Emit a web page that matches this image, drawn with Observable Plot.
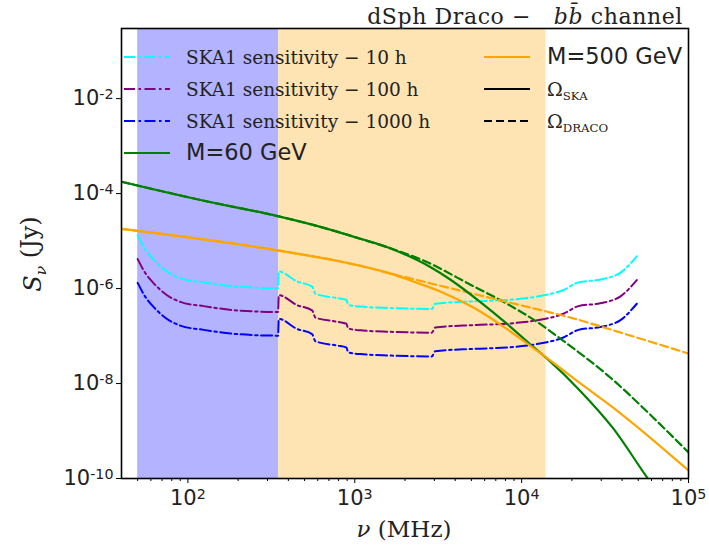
<!DOCTYPE html>
<html>
<head>
<meta charset="utf-8">
<script src="https://cdn.jsdelivr.net/npm/d3@7"></script>
<script src="https://cdn.jsdelivr.net/npm/@observablehq/plot@0.6"></script>
<style>
  html, body { margin: 0; padding: 0; background: #fff; }
  #chart { width: 709px; height: 546px; }
</style>
</head>
<body>
<div id="chart"></div>
<script>
// ---- axes / ticks ----
const xDomain = [40, 1e5];
const yDomain = [1e-10, 0.3];
const xMajorTicks = [1e2, 1e3, 1e4, 1e5];
const xMinorTicks = [50, 60, 70, 80, 90, 200, 300, 400, 500, 600, 700, 800, 900,
  2000, 3000, 4000, 5000, 6000, 7000, 8000, 9000,
  20000, 30000, 40000, 50000, 60000, 70000, 80000, 90000];
const yMajorTicks = [1e-10, 1e-8, 1e-6, 1e-4, 1e-2];

// ---- shaded frequency bands (MHz) ----
const bandLowStart = 50, bandLowEnd = 350;
const bandMidStart = 350, bandMidEnd = 14000;

// ---- SKA1 sensitivity curves (MHz, Jy) ----
const freqSens = [50, 55.7, 62.4, 75, 90, 124, 197, 347, 350.5, 451, 555, 581, 782, 891, 912,
  1079, 1622, 2897, 3034, 5140, 8147, 12300, 14160, 17800, 21900, 29500, 38900, 49000];
const sens10h = [1.32e-5, 6.61e-6, 4.07e-6, 2.29e-6, 1.66e-6, 1.35e-6, 1.10e-6, 1.02e-6, 2.29e-6,
  1.41e-6, 1.10e-6, 7.76e-7, 6.31e-7, 5.75e-7, 4.57e-7, 4.17e-7, 3.89e-7, 3.72e-7, 4.79e-7,
  5.37e-7, 5.75e-7, 6.76e-7, 7.41e-7, 9.33e-7, 1.35e-6, 1.55e-6, 2.14e-6, 4.79e-6];
const sens100h = [4.17e-6, 2.09e-6, 1.29e-6, 7.24e-7, 5.25e-7, 4.27e-7, 3.47e-7, 3.22e-7, 7.24e-7,
  4.47e-7, 3.47e-7, 2.45e-7, 2.00e-7, 1.82e-7, 1.45e-7, 1.32e-7, 1.23e-7, 1.18e-7, 1.51e-7,
  1.70e-7, 1.82e-7, 2.14e-7, 2.34e-7, 2.95e-7, 4.27e-7, 4.90e-7, 6.76e-7, 1.51e-6];
const sens1000h = [1.32e-6, 6.61e-7, 4.07e-7, 2.29e-7, 1.66e-7, 1.35e-7, 1.10e-7, 1.02e-7, 2.29e-7,
  1.41e-7, 1.10e-7, 7.76e-8, 6.31e-8, 5.75e-8, 4.57e-8, 4.17e-8, 3.89e-8, 3.72e-8, 4.79e-8,
  5.37e-8, 5.75e-8, 6.76e-8, 7.41e-8, 9.33e-8, 1.35e-7, 1.55e-7, 2.14e-7, 4.79e-7];

// ---- M = 60 GeV ----
const freqM60Ska = [40, 117.5, 350, 562, 818, 1079, 1600, 2056, 2818, 3733, 5636, 8147, 11220, 14160, 22390, 35480, 55720, 100000];
const fluxM60Ska = [1.78e-4, 7.41e-5, 3.31e-5, 2.19e-5, 1.51e-5, 1.12e-5, 7.24e-6, 5.01e-6, 2.88e-6, 1.55e-6, 5.25e-7, 1.82e-7, 6.76e-8, 3.39e-8, 7.08e-9, 1.12e-9, 1.12e-10, 6.3e-12];
const freqM60Draco = [40, 117.5, 350, 562, 818, 1079, 1600, 2582, 5140, 7430, 12330, 17780, 34670, 61520, 100000];
const fluxM60Draco = [1.78e-4, 7.41e-5, 3.31e-5, 2.19e-5, 1.51e-5, 1.12e-5, 7.24e-6, 3.89e-6, 1.12e-6, 5.75e-7, 2.00e-7, 7.94e-8, 1.26e-8, 1.91e-9, 3.55e-10];

// ---- M = 500 GeV ----
const freqM500Ska = [40, 350, 818, 1079, 1622, 2239, 3251, 5140, 8147, 12590, 14160, 22390, 35480, 100000];
const fluxM500Ska = [1.80e-5, 6.31e-6, 3.72e-6, 3.02e-6, 2.09e-6, 1.41e-6, 8.71e-7, 3.98e-7, 1.41e-7, 4.68e-8, 3.47e-8, 1.02e-8, 3.09e-9, 1.48e-10];
const freqM500Draco = [40, 350, 818, 1079, 1622, 2239, 3733, 6900, 12880, 18620, 46770, 100000];
const fluxM500Draco = [1.80e-5, 6.31e-6, 3.72e-6, 3.02e-6, 2.09e-6, 1.58e-6, 1.02e-6, 6.03e-7, 3.55e-7, 2.57e-7, 9.77e-8, 4.27e-8];

// ---- legend labels ----
const legendLeft = ["SKA1 sensitivity − 10 h", "SKA1 sensitivity − 100 h", "SKA1 sensitivity − 1000 h", "M=60 GeV"];
const legendRight = ["M=500 GeV", "Ω|SKA", "Ω|DRACO"];

const rows = (xs, ys) => xs.map((x, i) => ({x, y: ys[i]}));

const cCyan = "#00ffff", cPurple = "#800080", cBlue = "#0000ff", cGreen = "#008000", cOrange = "#ffa500";
const dashDot = "11,3.5,2.5,3.5";
const dashed = "8,4";

const plot = Plot.plot({
  width: 709,
  height: 546,
  marginLeft: 121,
  marginRight: 21,
  marginTop: 28,
  marginBottom: 68,
  style: {fontFamily: "DejaVu Sans", background: "white", overflow: "visible"},
  x: {type: "log", domain: xDomain},
  y: {type: "log", domain: yDomain},
  marks: [
    Plot.rect([{x1: bandLowStart, x2: bandLowEnd}], {x1: "x1", x2: "x2", y1: yDomain[0], y2: yDomain[1], fill: "#b3b3ff"}),
    Plot.rect([{x1: bandMidStart, x2: bandMidEnd}], {x1: "x1", x2: "x2", y1: yDomain[0], y2: yDomain[1], fill: "#ffe4b3"}),
    Plot.line(rows(freqSens, sens10h), {x: "x", y: "y", stroke: cCyan, strokeWidth: 2, strokeDasharray: dashDot, clip: true, curve: "monotone-x"}),
    Plot.line(rows(freqSens, sens100h), {x: "x", y: "y", stroke: cPurple, strokeWidth: 2, strokeDasharray: dashDot, clip: true, curve: "monotone-x"}),
    Plot.line(rows(freqSens, sens1000h), {x: "x", y: "y", stroke: cBlue, strokeWidth: 2, strokeDasharray: dashDot, clip: true, curve: "monotone-x"}),
    Plot.line(rows(freqM60Draco, fluxM60Draco), {x: "x", y: "y", stroke: cGreen, strokeWidth: 2.2, strokeDasharray: dashed, clip: true, curve: "monotone-x"}),
    Plot.line(rows(freqM500Draco, fluxM500Draco), {x: "x", y: "y", stroke: cOrange, strokeWidth: 2.2, strokeDasharray: dashed, clip: true, curve: "monotone-x"}),
    Plot.line(rows(freqM60Ska, fluxM60Ska), {x: "x", y: "y", stroke: cGreen, strokeWidth: 2.2, clip: true, curve: "monotone-x"}),
    Plot.line(rows(freqM500Ska, fluxM500Ska), {x: "x", y: "y", stroke: cOrange, strokeWidth: 2.2, clip: true, curve: "monotone-x"}),
    Plot.axisX(xMinorTicks, {tickSize: 3, tickFormat: () => "", stroke: "black", label: null}),
    Plot.axisX(xMajorTicks, {tickSize: 5, tickPadding: 7, tickFormat: d => "10^" + Math.round(Math.log10(d)), fontSize: 21, label: null, stroke: "black", fill: "#222"}),
    Plot.axisY(yMajorTicks, {tickSize: 5, tickPadding: 3, tickFormat: d => "10^" + Math.round(Math.log10(d)), fontSize: 21, label: null, stroke: "black", fill: "#222"}),
    Plot.frame({stroke: "black", strokeWidth: 1.6})
  ]
});

document.getElementById("chart").appendChild(plot);
const svg = d3.select(plot);

// superscript tick labels
svg.selectAll("text").each(function () {
  const t = this.textContent;
  if (t.startsWith("10^")) {
    const exp = t.slice(3);
    const el = d3.select(this);
    el.text(null);
    el.append("tspan").text("10");
    el.append("tspan").attr("dy", "-0.42em").attr("font-size", "0.68em").text(exp);
  }
});

const serif = "'DejaVu Serif', 'Liberation Serif', serif";

// title
const title = svg.append("text").attr("x", 683).attr("y", 24).attr("text-anchor", "end")
  .attr("font-family", serif).attr("font-size", 22).attr("letter-spacing", 0.6).attr("fill", "#222");
title.append("tspan").text("dSph Draco −   ");
title.append("tspan").attr("font-style", "italic").text("bb̄");
title.append("tspan").text(" channel");

// axis labels
const ylab = svg.append("text").attr("transform", "translate(41,254) rotate(-90)").attr("text-anchor", "middle")
  .attr("font-family", serif).attr("font-size", 24).attr("fill", "#222");
ylab.append("tspan").attr("font-style", "italic").text("S");
ylab.append("tspan").attr("font-style", "italic").attr("font-size", "0.65em").attr("dy", "0.3em").text("ν");
ylab.append("tspan").attr("dy", "-0.3em").text(" (Jy)");

const xlab = svg.append("text").attr("x", 404).attr("y", 537).attr("text-anchor", "middle")
  .attr("font-family", serif).attr("font-size", 23).attr("fill", "#222");
xlab.append("tspan").attr("font-style", "italic").text("ν");
xlab.append("tspan").text(" (MHz)");

// legend
const lg = svg.append("g").attr("text-anchor", "start");
const leftStyles = [[cCyan, dashDot], [cPurple, dashDot], [cBlue, dashDot], [cGreen, null]];
const rightStyles = [[cOrange, null], ["black", null], ["black", dashed]];
const rowY = [57, 89, 121, 153];
legendLeft.forEach((lab, i) => {
  lg.append("line").attr("x1", 124).attr("x2", 170).attr("y1", rowY[i]).attr("y2", rowY[i])
    .attr("stroke", leftStyles[i][0]).attr("stroke-width", 2).attr("stroke-dasharray", leftStyles[i][1]);
  const t = lg.append("text").attr("x", 186).attr("y", rowY[i] + 7).attr("fill", "#222").attr("text-anchor", "start");
  if (i < 3) t.attr("font-family", serif).attr("font-size", 18.5).text(lab);
  else t.attr("font-family", "DejaVu Sans").attr("font-size", 22.5).text(lab);
});
legendRight.forEach((lab, i) => {
  lg.append("line").attr("x1", 484).attr("x2", 530).attr("y1", rowY[i]).attr("y2", rowY[i])
    .attr("stroke", rightStyles[i][0]).attr("stroke-width", 2).attr("stroke-dasharray", rightStyles[i][1]);
  const t = lg.append("text").attr("x", 547).attr("y", rowY[i] + 7).attr("fill", "#222").attr("text-anchor", "start");
  if (i === 0) {
    t.attr("font-family", "DejaVu Sans").attr("font-size", 22.5).text(lab);
  } else {
    const [base, sub] = lab.split("|");
    t.attr("font-family", serif).attr("font-size", 19);
    t.append("tspan").text(base);
    t.append("tspan").attr("font-size", "0.62em").attr("dy", "0.35em").text(sub);
  }
});
</script>
</body>
</html>
